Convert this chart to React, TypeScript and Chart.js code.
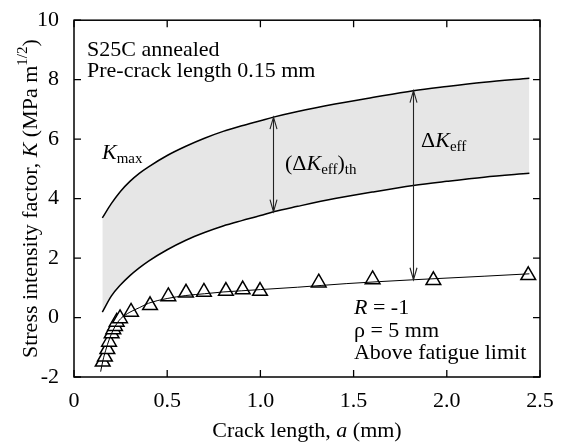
import React, { useEffect, useRef } from 'react';
import { Chart, registerables } from 'chart.js';

Chart.register(...registerables);

const FONT = "'Liberation Serif', 'Times New Roman', serif";

// Crack length a (mm) sample positions for the K curves
const aCurve = [0.152, 0.2, 0.25, 0.3, 0.35, 0.4, 0.5, 0.6, 0.7, 0.8, 0.9, 1.0, 1.07, 1.2, 1.4, 1.6, 1.82, 2.0, 2.2, 2.443];
// K_max curve (upper edge of band)
const kMax = [3.35, 3.83, 4.25, 4.58, 4.85, 5.07, 5.45, 5.76, 6.03, 6.26, 6.45, 6.62, 6.74, 6.93, 7.18, 7.4, 7.63, 7.77, 7.91, 8.05];
// lower edge of band (K_max - (dK_eff)_th)
const kLower = [0.18, 0.72, 1.1, 1.41, 1.67, 1.9, 2.28, 2.6, 2.86, 3.08, 3.26, 3.43, 3.56, 3.74, 4.0, 4.22, 4.44, 4.58, 4.72, 4.85];

// Trend line through measured data
const aFit = [0.143, 0.155, 0.17, 0.19, 0.21, 0.23, 0.25, 0.3, 0.35, 0.4, 0.5, 0.6, 0.7, 0.8, 0.9, 1.0, 1.2, 1.46, 1.82, 2.2, 2.443];
const kFit = [-1.82, -1.45, -1.1, -0.72, -0.42, -0.2, -0.04, 0.18, 0.33, 0.48, 0.64, 0.74, 0.8, 0.86, 0.9, 0.94, 1.02, 1.14, 1.27, 1.39, 1.47];

// Measured points (triangles)
const aData = [0.154, 0.166, 0.179, 0.188, 0.202, 0.211, 0.22, 0.229, 0.247, 0.306, 0.408, 0.506, 0.601, 0.697, 0.815, 0.905, 0.998, 1.313, 1.602, 1.928, 2.437];
const kData = [-1.49, -1.32, -1.07, -0.82, -0.54, -0.4, -0.29, -0.15, -0.03, 0.19, 0.41, 0.71, 0.83, 0.86, 0.89, 0.94, 0.89, 1.17, 1.28, 1.25, 1.42];

// Double-headed arrows
const arrowA = [1.07, 1.82];
const arrowFrom = [3.56, 1.27];
const arrowTo = [6.74, 7.63];

const xTicks = [0, 0.5, 1, 1.5, 2, 2.5];
const yTicks = [-2, 0, 2, 4, 6, 8, 10];

type Seg = { t: string; i?: boolean; sub?: boolean; sup?: boolean };

const labels: { x: number; y: number; segs: Seg[] }[] = [
  { x: 0.0697, y: 8.79, segs: [{ t: 'S25C annealed' }] },
  { x: 0.0697, y: 8.09, segs: [{ t: 'Pre-crack length 0.15 mm' }] },
  { x: 0.15, y: 5.33, segs: [{ t: 'K', i: true }, { t: 'max', sub: true }] },
  { x: 1.132, y: 4.96, segs: [{ t: '(\u0394' }, { t: 'K', i: true }, { t: 'eff', sub: true }, { t: ')' }, { t: 'th', sub: true }] },
  { x: 1.862, y: 5.74, segs: [{ t: '\u0394' }, { t: 'K', i: true }, { t: 'eff', sub: true }] },
  { x: 1.502, y: 0.11, segs: [{ t: 'R', i: true }, { t: ' = -1' }] },
  { x: 1.502, y: -0.66, segs: [{ t: '\u03C1 = 5 mm' }] },
  { x: 1.502, y: -1.4, segs: [{ t: 'Above fatigue limit' }] },
];

const xTitle: Seg[] = [{ t: 'Crack length, ' }, { t: 'a', i: true }, { t: ' (mm)' }];
const yTitle: Seg[] = [
  { t: 'Stress intensity factor, ' },
  { t: 'K', i: true },
  { t: ' (MPa m' },
  { t: '1/2', sup: true },
  { t: ')' },
];

function segFont(s: Seg) {
  const size = s.sub || s.sup ? 15 : 22;
  return `${s.i ? 'italic ' : ''}${size}px ${FONT}`;
}

function richWidth(ctx: CanvasRenderingContext2D, segs: Seg[]) {
  let w = 0;
  for (const s of segs) {
    ctx.font = segFont(s);
    w += ctx.measureText(s.t).width;
  }
  return w;
}

function drawRich(ctx: CanvasRenderingContext2D, x: number, y: number, segs: Seg[]) {
  let cx = x;
  ctx.textBaseline = 'alphabetic';
  ctx.textAlign = 'left';
  for (const s of segs) {
    ctx.font = segFont(s);
    const dy = s.sub ? 4 : s.sup ? -10 : 0;
    ctx.fillText(s.t, cx, y + dy);
    cx += ctx.measureText(s.t).width;
  }
}

function drawArrowHead(ctx: CanvasRenderingContext2D, x: number, y: number, dir: number) {
  // dir: -1 pointing up, +1 pointing down
  const len = 12;
  const hw = 3.5;
  ctx.beginPath();
  ctx.moveTo(x - hw, y - dir * len);
  ctx.lineTo(x, y);
  ctx.lineTo(x + hw, y - dir * len);
  ctx.stroke();
}

const decorPlugin = {
  id: 'decor',
  afterDraw(chart: any) {
    const ctx: CanvasRenderingContext2D = chart.ctx;
    const { left, right, top, bottom } = chart.chartArea;
    const xs = chart.scales.x;
    const ys = chart.scales.y;
    ctx.save();

    // arrows
    ctx.strokeStyle = '#222';
    ctx.lineWidth = 1.1;
    for (let i = 0; i < arrowA.length; i++) {
      const px = Math.round(xs.getPixelForValue(arrowA[i])) + 0.5;
      const y1 = ys.getPixelForValue(arrowTo[i]);
      const y2 = ys.getPixelForValue(arrowFrom[i]);
      ctx.beginPath();
      ctx.moveTo(px, y1);
      ctx.lineTo(px, y2);
      ctx.stroke();
      drawArrowHead(ctx, px, y1, -1);
      drawArrowHead(ctx, px, y2, 1);
    }

    // frame
    ctx.strokeStyle = '#000';
    ctx.lineWidth = 1.5;
    ctx.strokeRect(left, top, right - left, bottom - top);

    // inward ticks
    ctx.lineWidth = 1.3;
    const tl = 7;
    ctx.beginPath();
    for (const v of xTicks) {
      const px = xs.getPixelForValue(v);
      ctx.moveTo(px, bottom);
      ctx.lineTo(px, bottom - tl);
      ctx.moveTo(px, top);
      ctx.lineTo(px, top + tl);
    }
    for (const v of yTicks) {
      const py = ys.getPixelForValue(v);
      ctx.moveTo(left, py);
      ctx.lineTo(left + tl, py);
      ctx.moveTo(right, py);
      ctx.lineTo(right - tl, py);
    }
    ctx.stroke();

    // annotation texts
    ctx.fillStyle = '#000';
    for (const l of labels) {
      drawRich(ctx, xs.getPixelForValue(l.x), ys.getPixelForValue(l.y), l.segs);
    }

    // x title
    const wx = richWidth(ctx, xTitle);
    drawRich(ctx, (left + right) / 2 - wx / 2, 437, xTitle);

    // y title
    const wy = richWidth(ctx, yTitle);
    ctx.translate(37, (top + bottom) / 2);
    ctx.rotate(-Math.PI / 2);
    drawRich(ctx, -wy / 2, 0, yTitle);

    ctx.restore();
  },
};

export default function App() {
  const ref = useRef<HTMLCanvasElement>(null);

  useEffect(() => {
    const canvas = ref.current;
    if (!canvas) return;
    const chart = new Chart(canvas, {
      type: 'line',
      data: {
        datasets: [
          {
            label: 'Kmax',
            data: aCurve.map((a, i) => ({ x: a, y: kMax[i] })),
            borderColor: '#000',
            borderWidth: 1.5,
            pointRadius: 0,
            cubicInterpolationMode: 'monotone',
            fill: '+1',
            backgroundColor: '#e6e6e6',
          },
          {
            label: 'lower',
            data: aCurve.map((a, i) => ({ x: a, y: kLower[i] })),
            borderColor: '#000',
            borderWidth: 1.5,
            pointRadius: 0,
            cubicInterpolationMode: 'monotone',
            fill: false,
          },
          {
            label: 'fit',
            data: aFit.map((a, i) => ({ x: a, y: kFit[i] })),
            borderColor: '#000',
            borderWidth: 1,
            pointRadius: 0,
            cubicInterpolationMode: 'monotone',
            fill: false,
          },
          {
            label: 'data',
            data: aData.map((a, i) => ({ x: a, y: kData[i] })),
            showLine: false,
            pointStyle: 'triangle',
            pointRadius: 8.5,
            pointBackgroundColor: '#fff',
            pointBorderColor: '#000',
            pointBorderWidth: 1.5,
            fill: false,
          },
        ],
      },
      options: {
        responsive: false,
        animation: false,
        devicePixelRatio: 1,
        layout: { padding: { top: 19, right: 29, left: 0, bottom: 0 } },
        plugins: {
          legend: { display: false },
          tooltip: { enabled: false },
          filler: { drawTime: 'beforeDatasetsDraw' },
        } as any,
        scales: {
          x: {
            type: 'linear',
            min: 0,
            max: 2.5,
            grid: { display: false },
            border: { display: false },
            ticks: {
              stepSize: 0.5,
              color: '#000',
              font: { family: FONT, size: 22 },
              padding: 3,
              maxRotation: 0,
            },
            afterBuildTicks: (s: any) => {
              s.ticks = xTicks.map((v) => ({ value: v }));
            },
            afterFit: (s: any) => {
              s.height = 70;
            },
          },
          y: {
            type: 'linear',
            min: -2,
            max: 10,
            grid: { display: false },
            border: { display: false },
            ticks: {
              stepSize: 2,
              color: '#000',
              font: { family: FONT, size: 22 },
              padding: 7,
            },
            afterBuildTicks: (s: any) => {
              s.ticks = yTicks.map((v) => ({ value: v }));
            },
            afterFit: (s: any) => {
              s.width = 74;
            },
          },
        },
      } as any,
      plugins: [decorPlugin],
    });
    return () => chart.destroy();
  }, []);

  return (
    <div style={{ position: 'fixed', left: 0, top: 0, width: 569, height: 447, background: '#fff' }}>
      <canvas ref={ref} width={569} height={447} style={{ display: 'block' }} />
    </div>
  );
}
